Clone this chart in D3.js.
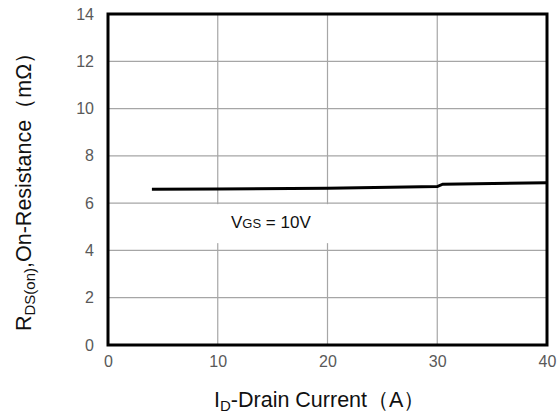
<!DOCTYPE html>
<html><head><meta charset="utf-8">
<script src="https://cdn.jsdelivr.net/npm/d3@7"></script>
<style>html,body{margin:0;padding:0;background:#fff;}svg{display:block;font-family:Arial,"Liberation Sans",sans-serif;}</style>
</head><body>
<svg id="c" width="559" height="416"></svg>
<script>
const currentA = [4, 10, 20, 30, 30.5, 40];
const resistance = [6.59, 6.60, 6.63, 6.70, 6.80, 6.86];
const xTicks = [0, 10, 20, 30, 40];
const yTicks = [0, 2, 4, 6, 8, 10, 12, 14];

const svg = d3.select("#c");
const m = {l:108, r:547, t:14, b:345};
const x = d3.scaleLinear().domain([0,40]).range([m.l, m.r]);
const y = d3.scaleLinear().domain([0,14]).range([m.b, m.t]);

// grid
svg.append("g").selectAll("line").data(xTicks.slice(1,-1)).join("line")
  .attr("x1", d=>x(d)).attr("x2", d=>x(d)).attr("y1", m.t).attr("y2", m.b)
  .attr("stroke", "#a6a6a6").attr("stroke-width", 1.2);
svg.append("g").selectAll("line").data(yTicks.slice(1,-1)).join("line")
  .attr("x1", m.l).attr("x2", m.r).attr("y1", d=>y(d)).attr("y2", d=>y(d))
  .attr("stroke", "#a6a6a6").attr("stroke-width", 1.2);

// label box
svg.append("rect").attr("x", 217).attr("y", y(6)+1).attr("width", 139).attr("height", 39).attr("fill", "#fff");
const lt = svg.append("text").attr("x", 231).attr("y", 228).attr("font-size", 17).attr("fill", "#111");
lt.append("tspan").text("V");
lt.append("tspan").attr("font-size", 13).text("GS");
lt.append("tspan").text(" = 10V");

// line
const pts = currentA.map((d,i)=>[d, resistance[i]]);
svg.append("path").datum(pts)
  .attr("d", d3.line().x(d=>x(d[0])).y(d=>y(d[1])))
  .attr("fill","none").attr("stroke","#000").attr("stroke-width",3);

// frame
svg.append("rect").attr("x", m.l).attr("y", m.t).attr("width", m.r-m.l).attr("height", m.b-m.t)
  .attr("fill","none").attr("stroke","#000").attr("stroke-width",3);

// axes labels
const xa = svg.append("g").attr("transform", `translate(0,${m.b+8})`)
  .call(d3.axisBottom(x).tickValues(xTicks).tickSize(0).tickFormat(d3.format("d")));
xa.select(".domain").remove();
xa.selectAll("text").attr("font-size", 16).attr("fill", "#595959").attr("font-family", "Arial,'Liberation Sans',sans-serif");

const ya = svg.append("g").attr("transform", `translate(${m.l-11},0)`)
  .call(d3.axisLeft(y).tickValues(yTicks).tickSize(0).tickFormat(d3.format("d")));
ya.select(".domain").remove();
ya.selectAll("text").attr("font-size", 16).attr("fill", "#595959").attr("font-family", "Arial,'Liberation Sans',sans-serif");

// titles
const xt = svg.append("text").attr("x", 214).attr("y", 407).attr("font-size", 21.5).attr("fill","#111");
xt.append("tspan").text("I");
xt.append("tspan").attr("font-size", 15).attr("dy", 4).text("D");
xt.append("tspan").attr("dy", -4).text("-Drain Current（A）");

const yt = svg.append("text").attr("transform", "translate(31,331) rotate(-90)").attr("font-size", 21.5).attr("fill","#111");
yt.append("tspan").text("R");
yt.append("tspan").attr("font-size", 15).attr("dy", 4).text("DS(on)");
yt.append("tspan").attr("dy", -4).text(",On-Resistance（mΩ）");
</script>
</body></html>
